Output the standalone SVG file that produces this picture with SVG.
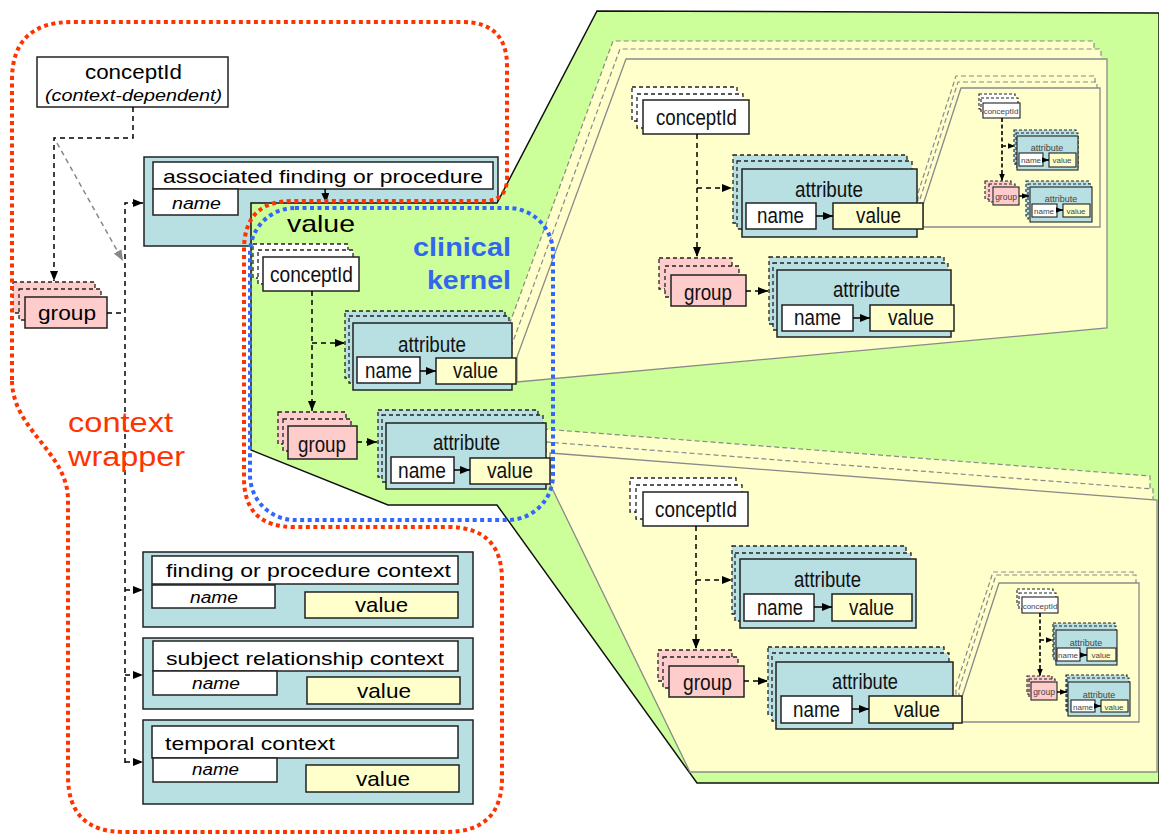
<svg xmlns="http://www.w3.org/2000/svg" width="1159" height="835" viewBox="0 0 1159 835">
  <style>
    .teal{fill:#b8dfe2}
    .pink{fill:#ffcccc}
    .wht{fill:#ffffff}
    .yel{fill:#ffffcc}
    .bx{stroke:#222;stroke-width:1.5}
    .sh{stroke:#222;stroke-width:1.3;stroke-dasharray:4 3}
    .msh{stroke:#222;stroke-width:1.1;stroke-dasharray:3 2}
    .mbx{stroke:#222;stroke-width:1.1}
    .pnl{fill:#ffffcc;stroke:#8a8a8a;stroke-width:1.3}
    .pnls{fill:#ffffcc;stroke:#8a8a8a;stroke-width:1.2;stroke-dasharray:5 3}
    .dc{fill:none;stroke:#000;stroke-width:1.5;stroke-dasharray:5 4}
    .mdc{fill:none;stroke:#000;stroke-width:1.6;stroke-dasharray:4 2.5}
    .sc{fill:none;stroke:#000;stroke-width:1.5}
    .f{font-family:"Liberation Sans",Arial,sans-serif;fill:#000}
    .nw{font-family:"Liberation Sans Narrow","Liberation Sans",Arial,sans-serif;font-size:22px;fill:#111}
    .mt{font-family:"Liberation Sans Narrow","Liberation Sans",Arial,sans-serif;fill:#444;text-anchor:middle}
    .dot{fill:none;stroke-width:4;stroke-dasharray:4 3.5}
  </style>
  <defs>
    <marker id="ah" viewBox="0 0 10 8" refX="10" refY="4" markerWidth="10" markerHeight="8" markerUnits="userSpaceOnUse" orient="auto">
      <path d="M0,0 L10,4 L0,8 Z" fill="#000"/>
    </marker>
    <marker id="ahs" viewBox="0 0 10 8" refX="10" refY="4" markerWidth="7" markerHeight="6" markerUnits="userSpaceOnUse" orient="auto">
      <path d="M0,0 L10,4 L0,8 Z" fill="#000"/>
    </marker>
    <marker id="ahg" viewBox="0 0 10 8" refX="10" refY="4" markerWidth="11" markerHeight="9" markerUnits="userSpaceOnUse" orient="auto">
      <path d="M0,0 L10,4 L0,8 Z" fill="#888"/>
    </marker>
  </defs>

  <!-- associated finding or procedure (teal holder, green value area drawn over it) -->
  <g id="associated-finding">
    <rect class="teal bx" x="144" y="157" width="354" height="89"/>
    <rect class="wht bx" x="153" y="162" width="340" height="27"/>
    <text class="f" x="163" y="183" font-size="19" textLength="320" lengthAdjust="spacingAndGlyphs">associated finding or procedure</text>
    <rect class="wht bx" x="153" y="189" width="85" height="26"/>
    <text class="f" x="172" y="209" font-size="16" font-style="italic" textLength="49" lengthAdjust="spacingAndGlyphs">name</text>
  </g>

  <!-- value area, expanded to the right -->
  <g id="value-region">
    <path d="M251,203 L497,203 L597,11 L1159,13 L1159,783 L697,783 L497,505 L388,505 L251,450 Z" fill="#ccff99" stroke="#111" stroke-width="1.5"/>
    <text class="f" x="287" y="232" font-size="24" textLength="68" lengthAdjust="spacingAndGlyphs">value</text>
  </g>

  <!-- magnified value panels -->
  <g id="panel-upper">
    <polygon class="pnls" points="504,339 613,41 1094,41 1094,310 504,364"/>
    <polygon class="pnls" points="511,347 620,49 1101,49 1101,318 511,372"/>
    <polygon class="pnl" points="517,357 626,59 1107,59 1107,328 517,382"/>
  </g>
  <g id="panel-lower">
    <polygon class="pnls" points="543,429 1150,476 1150,748 683,748 543,460"/>
    <polygon class="pnls" points="546,442 1153,489 1153,761 686,761 546,473"/>
    <polygon class="pnl" points="550,453 1157,500 1157,772 690,772 550,484"/>
  </g>
  <g id="panel-upper-mini">
    <polygon class="pnls" points="918,193 956,76 1095,76 1095,215 918,215"/>
    <polygon class="pnls" points="920,199 958,82 1097,82 1097,221 920,221"/>
    <polygon class="pnl" points="923,205 961,88 1100,88 1100,227 923,227"/>
  </g>
  <g id="panel-lower-mini">
    <polygon class="pnls" points="956,686 993,572 1133,572 1133,711 956,711"/>
    <polygon class="pnls" points="959,689 996,575 1136,575 1136,714 959,714"/>
    <polygon class="pnl" points="962,697 999,583 1139,583 1139,722 962,722"/>
  </g>

  <!-- context wrapper nodes -->
  <g id="concept-context">
    <rect class="wht bx" x="37" y="57" width="191" height="50"/>
    <text class="f" x="85" y="79" font-size="20" textLength="97" lengthAdjust="spacingAndGlyphs">conceptId</text>
    <text class="f" x="45" y="101" font-size="16" font-style="italic" textLength="177" lengthAdjust="spacingAndGlyphs">(context-dependent)</text>
  </g>
  <g id="group-context">
    <rect class="pink sh" x="13" y="282" width="82" height="31"/>
    <rect class="pink sh" x="19" y="289" width="82" height="31"/>
    <rect class="pink bx" x="25" y="297" width="82" height="31"/>
    <text class="f" x="38" y="320" font-size="20" textLength="58" lengthAdjust="spacingAndGlyphs">group</text>
  </g>
  <g id="finding-context">
    <rect class="teal bx" x="143" y="552" width="330" height="75"/>
    <rect class="wht bx" x="152" y="556" width="306" height="28"/>
    <text class="f" x="166" y="577" font-size="19" textLength="285" lengthAdjust="spacingAndGlyphs">finding or procedure context</text>
    <rect class="wht bx" x="152" y="585" width="123" height="23"/>
    <text class="f" x="190" y="603" font-size="16" font-style="italic" textLength="48" lengthAdjust="spacingAndGlyphs">name</text>
    <rect class="yel bx" x="305" y="592" width="153" height="26"/>
    <text class="f" x="355" y="612" font-size="21" textLength="53" lengthAdjust="spacingAndGlyphs">value</text>
  </g>
  <g id="subject-context">
    <rect class="teal bx" x="143" y="638" width="330" height="71"/>
    <rect class="wht bx" x="153" y="641" width="305" height="30"/>
    <text class="f" x="166" y="665" font-size="19" textLength="278" lengthAdjust="spacingAndGlyphs">subject relationship context</text>
    <rect class="wht bx" x="153" y="671" width="124" height="24"/>
    <text class="f" x="192" y="689" font-size="16" font-style="italic" textLength="48" lengthAdjust="spacingAndGlyphs">name</text>
    <rect class="yel bx" x="307" y="677" width="153" height="27"/>
    <text class="f" x="357" y="698" font-size="21" textLength="54" lengthAdjust="spacingAndGlyphs">value</text>
  </g>
  <g id="temporal-context">
    <rect class="teal bx" x="143" y="720" width="330" height="84"/>
    <rect class="wht bx" x="152" y="726" width="306" height="32"/>
    <text class="f" x="165" y="750" font-size="19" textLength="170" lengthAdjust="spacingAndGlyphs">temporal context</text>
    <rect class="wht bx" x="153" y="758" width="124" height="24"/>
    <text class="f" x="192" y="775" font-size="16" font-style="italic" textLength="47" lengthAdjust="spacingAndGlyphs">name</text>
    <rect class="yel bx" x="306" y="765" width="153" height="27"/>
    <text class="f" x="356" y="786" font-size="21" textLength="54" lengthAdjust="spacingAndGlyphs">value</text>
  </g>

  <!-- clinical kernel nodes -->
  <g id="kernel-concept">
    <rect class="wht sh" x="253" y="244" width="95" height="34"/>
    <rect class="wht sh" x="258" y="250" width="95" height="34"/>
    <rect class="wht bx" x="263" y="257" width="96" height="34"/>
    <text class="nw" x="270" y="282" textLength="83" lengthAdjust="spacingAndGlyphs">conceptId</text>
  </g>
  <g id="kernel-attribute-1">
    <rect class="teal sh" x="345" y="311" width="160" height="67"/>
    <rect class="teal sh" x="349" y="316" width="160" height="67"/>
    <rect class="teal bx" x="353" y="323" width="159" height="67"/>
    <text class="nw" x="398" y="352" textLength="68" lengthAdjust="spacingAndGlyphs">attribute</text>
    <rect class="wht bx" x="357" y="357" width="63" height="26"/>
    <text class="nw" x="365" y="378" textLength="47" lengthAdjust="spacingAndGlyphs">name</text>
    <rect class="yel bx" x="436" y="358" width="80" height="26"/>
    <text class="nw" x="453" y="378" textLength="45" lengthAdjust="spacingAndGlyphs">value</text>
  </g>
  <g id="kernel-group">
    <rect class="pink sh" x="278" y="412" width="68" height="32"/>
    <rect class="pink sh" x="283" y="419" width="68" height="32"/>
    <rect class="pink bx" x="288" y="426" width="69" height="33"/>
    <text class="nw" x="298" y="452" textLength="48" lengthAdjust="spacingAndGlyphs">group</text>
  </g>
  <g id="kernel-attribute-2">
    <rect class="teal sh" x="378" y="410" width="160" height="67"/>
    <rect class="teal sh" x="382" y="415" width="161" height="67"/>
    <rect class="teal bx" x="386" y="423" width="160" height="66"/>
    <text class="nw" x="433" y="450" textLength="67" lengthAdjust="spacingAndGlyphs">attribute</text>
    <rect class="wht bx" x="391" y="457" width="63" height="26"/>
    <text class="nw" x="398" y="478" textLength="48" lengthAdjust="spacingAndGlyphs">name</text>
    <rect class="yel bx" x="470" y="458" width="80" height="26"/>
    <text class="nw" x="487" y="478" textLength="46" lengthAdjust="spacingAndGlyphs">value</text>
  </g>

  <!-- upper magnified panel nodes -->
  <g id="upper-concept">
    <rect class="wht sh" x="632" y="87" width="105" height="34"/>
    <rect class="wht sh" x="637" y="94" width="106" height="34"/>
    <rect class="wht bx" x="643" y="100" width="106" height="34"/>
    <text class="nw" x="656" y="125" textLength="81" lengthAdjust="spacingAndGlyphs">conceptId</text>
  </g>
  <g id="upper-attribute-1">
    <rect class="teal sh" x="733" y="155" width="174" height="68"/>
    <rect class="teal sh" x="737" y="161" width="175" height="68"/>
    <rect class="teal bx" x="742" y="169" width="175" height="68"/>
    <text class="nw" x="795" y="197" textLength="68" lengthAdjust="spacingAndGlyphs">attribute</text>
    <rect class="wht bx" x="746" y="203" width="70" height="26"/>
    <text class="nw" x="757" y="223" textLength="47" lengthAdjust="spacingAndGlyphs">name</text>
    <rect class="yel bx" x="833" y="203" width="90" height="26"/>
    <text class="nw" x="856" y="223" textLength="45" lengthAdjust="spacingAndGlyphs">value</text>
  </g>
  <g id="upper-group">
    <rect class="pink sh" x="659" y="258" width="73" height="31"/>
    <rect class="pink sh" x="665" y="266" width="74" height="31"/>
    <rect class="pink bx" x="671" y="275" width="75" height="31"/>
    <text class="nw" x="684" y="300" textLength="48" lengthAdjust="spacingAndGlyphs">group</text>
  </g>
  <g id="upper-attribute-2">
    <rect class="teal sh" x="769" y="257" width="175" height="67"/>
    <rect class="teal sh" x="773" y="263" width="175" height="67"/>
    <rect class="teal bx" x="777" y="270" width="174" height="67"/>
    <text class="nw" x="833" y="297" textLength="67" lengthAdjust="spacingAndGlyphs">attribute</text>
    <rect class="wht bx" x="782" y="305" width="71" height="26"/>
    <text class="nw" x="794" y="325" textLength="47" lengthAdjust="spacingAndGlyphs">name</text>
    <rect class="yel bx" x="870" y="305" width="84" height="26"/>
    <text class="nw" x="888" y="325" textLength="46" lengthAdjust="spacingAndGlyphs">value</text>
  </g>

  <!-- lower magnified panel nodes -->
  <g id="lower-concept">
    <rect class="wht sh" x="630" y="478" width="106" height="34"/>
    <rect class="wht sh" x="636" y="485" width="106" height="34"/>
    <rect class="wht bx" x="643" y="492" width="105" height="34"/>
    <text class="nw" x="655" y="517" textLength="82" lengthAdjust="spacingAndGlyphs">conceptId</text>
  </g>
  <g id="lower-attribute-1">
    <rect class="teal sh" x="732" y="546" width="174" height="68"/>
    <rect class="teal sh" x="735" y="553" width="176" height="68"/>
    <rect class="teal bx" x="740" y="559" width="176" height="69"/>
    <text class="nw" x="794" y="587" textLength="67" lengthAdjust="spacingAndGlyphs">attribute</text>
    <rect class="wht bx" x="744" y="594" width="70" height="27"/>
    <text class="nw" x="757" y="615" textLength="46" lengthAdjust="spacingAndGlyphs">name</text>
    <rect class="yel bx" x="832" y="594" width="80" height="27"/>
    <text class="nw" x="849" y="615" textLength="45" lengthAdjust="spacingAndGlyphs">value</text>
  </g>
  <g id="lower-group">
    <rect class="pink sh" x="658" y="650" width="74" height="31"/>
    <rect class="pink sh" x="663" y="657" width="75" height="31"/>
    <rect class="pink bx" x="669" y="666" width="75" height="31"/>
    <text class="nw" x="683" y="690" textLength="49" lengthAdjust="spacingAndGlyphs">group</text>
  </g>
  <g id="lower-attribute-2">
    <rect class="teal sh" x="768" y="647" width="176" height="68"/>
    <rect class="teal sh" x="772" y="653" width="177" height="68"/>
    <rect class="teal bx" x="776" y="662" width="177" height="67"/>
    <text class="nw" x="832" y="689" textLength="66" lengthAdjust="spacingAndGlyphs">attribute</text>
    <rect class="wht bx" x="781" y="696" width="71" height="27"/>
    <text class="nw" x="793" y="717" textLength="47" lengthAdjust="spacingAndGlyphs">name</text>
    <rect class="yel bx" x="869" y="696" width="93" height="27"/>
    <text class="nw" x="894" y="717" textLength="46" lengthAdjust="spacingAndGlyphs">value</text>
  </g>

  <!-- upper mini panel nodes -->
  <g id="upper-mini-concept">
    <rect class="wht msh" x="979" y="94" width="36" height="15"/>
    <rect class="wht msh" x="981" y="98" width="37" height="15"/>
    <rect class="wht mbx" x="983" y="103" width="37" height="15"/>
    <text class="mt" x="1001" y="114" font-size="8">conceptId</text>
  </g>
  <g id="upper-mini-attribute-1">
    <rect class="teal msh" x="1014" y="130" width="62" height="34"/>
    <rect class="teal msh" x="1016" y="133" width="62" height="34"/>
    <rect class="teal mbx" x="1017" y="136" width="61" height="34"/>
    <text class="mt" x="1047" y="151" font-size="9">attribute</text>
    <rect class="wht mbx" x="1019" y="153" width="24" height="13"/>
    <text class="mt" x="1031" y="163" font-size="8">name</text>
    <rect class="yel mbx" x="1049" y="153" width="27" height="14"/>
    <text class="mt" x="1062" y="163" font-size="8">value</text>
  </g>
  <g id="upper-mini-group">
    <rect class="pink msh" x="985" y="181" width="26" height="18"/>
    <rect class="pink msh" x="989" y="184" width="26" height="18"/>
    <rect class="pink mbx" x="993" y="187" width="26" height="18"/>
    <text class="mt" x="1006" y="200" font-size="8.5">group</text>
  </g>
  <g id="upper-mini-attribute-2">
    <rect class="teal msh" x="1026" y="181" width="63" height="35"/>
    <rect class="teal msh" x="1028" y="184" width="63" height="35"/>
    <rect class="teal mbx" x="1030" y="187" width="62" height="35"/>
    <text class="mt" x="1061" y="202" font-size="9">attribute</text>
    <rect class="wht mbx" x="1032" y="204" width="25" height="13"/>
    <text class="mt" x="1044" y="214" font-size="8">name</text>
    <rect class="yel mbx" x="1063" y="204" width="27" height="13"/>
    <text class="mt" x="1076" y="214" font-size="8">value</text>
  </g>

  <!-- lower mini panel nodes -->
  <g id="lower-mini-concept">
    <rect class="wht msh" x="1017" y="589" width="36" height="16"/>
    <rect class="wht msh" x="1019" y="593" width="37" height="16"/>
    <rect class="wht mbx" x="1022" y="597" width="36" height="16"/>
    <text class="mt" x="1040" y="609" font-size="8">conceptId</text>
  </g>
  <g id="lower-mini-attribute-1">
    <rect class="teal msh" x="1053" y="623" width="62" height="35"/>
    <rect class="teal msh" x="1054" y="626" width="62" height="35"/>
    <rect class="teal mbx" x="1056" y="630" width="61" height="35"/>
    <text class="mt" x="1086" y="646" font-size="9">attribute</text>
    <rect class="wht mbx" x="1057" y="648" width="23" height="13"/>
    <text class="mt" x="1068" y="658" font-size="8">name</text>
    <rect class="yel mbx" x="1087" y="648" width="29" height="13"/>
    <text class="mt" x="1101" y="658" font-size="8">value</text>
  </g>
  <g id="lower-mini-group">
    <rect class="pink msh" x="1027" y="676" width="25" height="18"/>
    <rect class="pink msh" x="1029" y="679" width="26" height="18"/>
    <rect class="pink mbx" x="1031" y="682" width="26" height="18"/>
    <text class="mt" x="1044" y="695" font-size="8.5">group</text>
  </g>
  <g id="lower-mini-attribute-2">
    <rect class="teal msh" x="1066" y="675" width="61" height="35"/>
    <rect class="teal msh" x="1067" y="678" width="62" height="35"/>
    <rect class="teal mbx" x="1068" y="682" width="62" height="34"/>
    <text class="mt" x="1099" y="698" font-size="9">attribute</text>
    <rect class="wht mbx" x="1071" y="700" width="24" height="12"/>
    <text class="mt" x="1083" y="710" font-size="8">name</text>
    <rect class="yel mbx" x="1101" y="700" width="27" height="12"/>
    <text class="mt" x="1114" y="710" font-size="8">value</text>
  </g>

  <!-- connectors -->
  <g id="connectors">
    <polyline class="dc" points="133,107 133,138 54,138 54,281" marker-end="url(#ah)"/>
    <line x1="57" y1="143" x2="123" y2="261" stroke="#888" stroke-width="1.5" stroke-dasharray="5 4" marker-end="url(#ahg)"/>
    <polyline class="dc" points="107,313 125,313"/>
    <polyline class="dc" points="125,763 125,203 143,203" marker-end="url(#ah)"/>
    <line class="dc" x1="125" y1="590" x2="143" y2="590" marker-end="url(#ah)"/>
    <line class="dc" x1="125" y1="675" x2="143" y2="675" marker-end="url(#ah)"/>
    <line class="dc" x1="125" y1="762" x2="143" y2="762" marker-end="url(#ah)"/>
    <line class="sc" x1="325" y1="189" x2="326" y2="203" marker-end="url(#ah)"/>

    <line class="dc" x1="312" y1="291" x2="312" y2="411" marker-end="url(#ah)"/>
    <line class="dc" x1="312" y1="343" x2="345" y2="343" marker-end="url(#ah)"/>
    <line class="dc" x1="357" y1="442" x2="377" y2="442" marker-end="url(#ah)"/>
    <line class="sc" x1="420" y1="371" x2="436" y2="371" marker-end="url(#ah)"/>
    <line class="sc" x1="454" y1="470" x2="470" y2="470" marker-end="url(#ah)"/>

    <line class="dc" x1="697" y1="134" x2="697" y2="257" marker-end="url(#ah)"/>
    <line class="dc" x1="697" y1="188" x2="732" y2="188" marker-end="url(#ah)"/>
    <line class="dc" x1="746" y1="291" x2="768" y2="291" marker-end="url(#ah)"/>
    <line class="sc" x1="816" y1="216" x2="833" y2="216" marker-end="url(#ah)"/>
    <line class="sc" x1="853" y1="318" x2="870" y2="318" marker-end="url(#ah)"/>

    <line class="dc" x1="696" y1="526" x2="696" y2="649" marker-end="url(#ah)"/>
    <line class="dc" x1="696" y1="580" x2="732" y2="580" marker-end="url(#ah)"/>
    <line class="dc" x1="744" y1="681" x2="768" y2="681" marker-end="url(#ah)"/>
    <line class="sc" x1="814" y1="607" x2="832" y2="607" marker-end="url(#ah)"/>
    <line class="sc" x1="852" y1="709" x2="869" y2="709" marker-end="url(#ah)"/>

    <line class="mdc" x1="1002" y1="118" x2="1002" y2="181" marker-end="url(#ahs)"/>
    <line class="mdc" x1="1002" y1="146" x2="1015" y2="146" marker-end="url(#ahs)"/>
    <line class="mdc" x1="1019" y1="196" x2="1029" y2="196" marker-end="url(#ahs)"/>
    <line class="sc" x1="1043" y1="160" x2="1049" y2="160" stroke-width="1" marker-end="url(#ahs)"/>
    <line class="sc" x1="1057" y1="210" x2="1063" y2="210" stroke-width="1" marker-end="url(#ahs)"/>

    <line class="mdc" x1="1040" y1="613" x2="1040" y2="676" marker-end="url(#ahs)"/>
    <line class="mdc" x1="1040" y1="640" x2="1053" y2="640" marker-end="url(#ahs)"/>
    <line class="mdc" x1="1057" y1="692" x2="1067" y2="692" marker-end="url(#ahs)"/>
    <line class="sc" x1="1080" y1="655" x2="1087" y2="655" stroke-width="1" marker-end="url(#ahs)"/>
    <line class="sc" x1="1095" y1="706" x2="1101" y2="706" stroke-width="1" marker-end="url(#ahs)"/>
  </g>

  <!-- boundaries and their captions -->
  <g id="context-wrapper">
    <path class="dot" stroke="#ff3300" d="M12,380 L12,80 Q12,22 72,22 L462,22 Q507,22 507,66 L507,178 Q507,201 484,201 L292,201 Q244,201 244,250 L244,478 Q244,527 294,527 L448,527 Q502,527 502,580 L502,778 Q502,832 446,832 L124,832 Q68,832 68,776 L68,500 C68,452 12,430 12,380 Z"/>
    <text class="f" x="68" y="432" font-size="28" fill="#ff3300" style="fill:#ff3300" textLength="105" lengthAdjust="spacingAndGlyphs">context</text>
    <text class="f" x="68" y="466" font-size="28" style="fill:#ff3300" textLength="117" lengthAdjust="spacingAndGlyphs">wrapper</text>
  </g>
  <g id="clinical-kernel">
    <rect class="dot" stroke="#3366ff" x="250" y="208" width="303" height="312" rx="45"/>
    <text class="f" x="413" y="256" font-size="26" font-weight="bold" style="fill:#3366ee" textLength="98" lengthAdjust="spacingAndGlyphs">clinical</text>
    <text class="f" x="427" y="289" font-size="26" font-weight="bold" style="fill:#3366ee" textLength="84" lengthAdjust="spacingAndGlyphs">kernel</text>
  </g>
</svg>
